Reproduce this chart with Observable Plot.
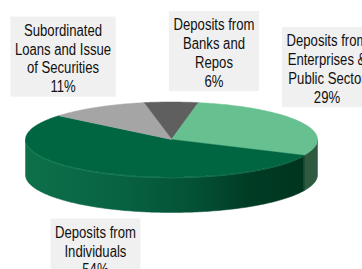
<!DOCTYPE html>
<html><head><meta charset="utf-8">
<script src="https://cdn.jsdelivr.net/npm/d3@7"></script>
<script src="https://cdn.jsdelivr.net/npm/@observablehq/plot@0.6"></script>
<style>
html,body{margin:0;padding:0;background:#fff;overflow:hidden;}
#chart{width:362px;height:269px;overflow:hidden;}
</style></head><body><div id="chart"></div>
<script>
const categories = ["Deposits from Banks and Repos", "Deposits from Enterprises & Public Sector", "Deposits from Individuals", "Subordinated Loans and Issue of Securities"];
const shares = [6, 29, 54, 11];
const labelText = ["Deposits from\nBanks and\nRepos\n6%", "Deposits from\nEnterprises &\nPublic Sector\n29%", "Deposits from\nIndividuals\n54%", "Subordinated\nLoans and Issue\nof Securities\n11%"];
const topColors = ["#5f5f5f", "#66c08f", "#006641", "#a5a5a5"];
const sideColors = ["#444444", "#2e5a40", "url(#sideGrad)", "#777777"];

// layout (pie units: x in radii, y in vertical radii)
const startAngle = -11 * Math.PI / 180;
const depth = 35.5 / 37.5;
const labelPos = [[0.291, 2.32], [1.065, 1.893], [-0.521, -2.96], [-0.743, 2.173]];

const arcs = d3.pie().sort(null).startAngle(startAngle).endAngle(startAngle + 2 * Math.PI)(shares);
const step = Math.PI / 180;
function arcPts(a0, a1) {
  const n = Math.max(2, Math.ceil((a1 - a0) / step));
  return d3.range(n + 1).map(i => { const a = a0 + (a1 - a0) * i / n; return [Math.sin(a), Math.cos(a)]; });
}
const topPolys = arcs.map(a => [[0, 0], ...arcPts(a.startAngle, a.endAngle)].map(([x, y]) => ({x, y})));
const sidePolys = arcs.map(a => {
  const lo = Math.max(a.startAngle, Math.PI / 2), hi = Math.min(a.endAngle, 3 * Math.PI / 2);
  if (hi <= lo) return null;
  const t = arcPts(lo, hi);
  return [...t, ...t.slice().reverse().map(([x, y]) => [x, y - depth])].map(([x, y]) => ({x, y}));
});
const rim = arcPts(arcs[2].startAngle + 0.03, 3 * Math.PI / 2).map(([x, y]) => ({x, y: y - 0.02}));
const labels = labelText.map((t, i) => ({t, x: labelPos[i][0], y: labelPos[i][1]}));

const marks = [];
sidePolys.forEach((p, i) => { if (p) marks.push(Plot.line(p, {x: "x", y: "y", fill: sideColors[i], stroke: sideColors[i], strokeWidth: 0.5, curve: "linear-closed"})); });
marks.push(Plot.line(rim, {x: "x", y: "y", stroke: "#2a9a68", strokeWidth: 1, strokeOpacity: 0.55}));
topPolys.forEach((p, i) => marks.push(Plot.line(p, {x: "x", y: "y", fill: topColors[i], stroke: topColors[i], strokeWidth: 0.5, curve: "linear-closed"})));
marks.push(Plot.text(labels, {x: "x", y: "y", text: "t", fontSize: 16, lineHeight: 1.18, fill: "#111", fontFamily: "'Liberation Sans', Arial, sans-serif", textAnchor: "middle"}));

const chart = Plot.plot({
  width: 362, height: 269, margin: 0,
  x: {domain: [-1, 1], range: [25, 317], axis: null},
  y: {domain: [-1, 1], range: [176.5, 101.5], axis: null},
  style: {background: "#fff", overflow: "hidden"},
  marks
});
document.getElementById("chart").append(chart);

const defs = d3.select(chart).insert("defs", ":first-child");
const g = defs.append("linearGradient").attr("id", "sideGrad").attr("x1", 0).attr("x2", 1).attr("y1", 0).attr("y2", 0);
[[0, "#0d704a"], [0.35, "#086242"], [0.6, "#045236"], [0.8, "#013c25"], [1, "#00341f"]].forEach(([o, c]) => g.append("stop").attr("offset", o).attr("stop-color", c));

// condensed lettering like the original (narrow sans) + label boxes
d3.select(chart).selectAll("g[aria-label=text] text").each(function () {
  const node = this;
  const tr = (node.getAttribute("transform") || "") + " scale(0.82,1)";
  node.setAttribute("transform", tr);
  const b = node.getBBox();
  d3.select(node.parentNode).insert("rect", () => node)
    .attr("transform", tr)
    .attr("x", b.x - 5.5).attr("y", b.y - 5).attr("width", b.width + 11).attr("height", b.height + 6)
    .attr("fill", "#f0f0f0");
});
</script></body></html>
